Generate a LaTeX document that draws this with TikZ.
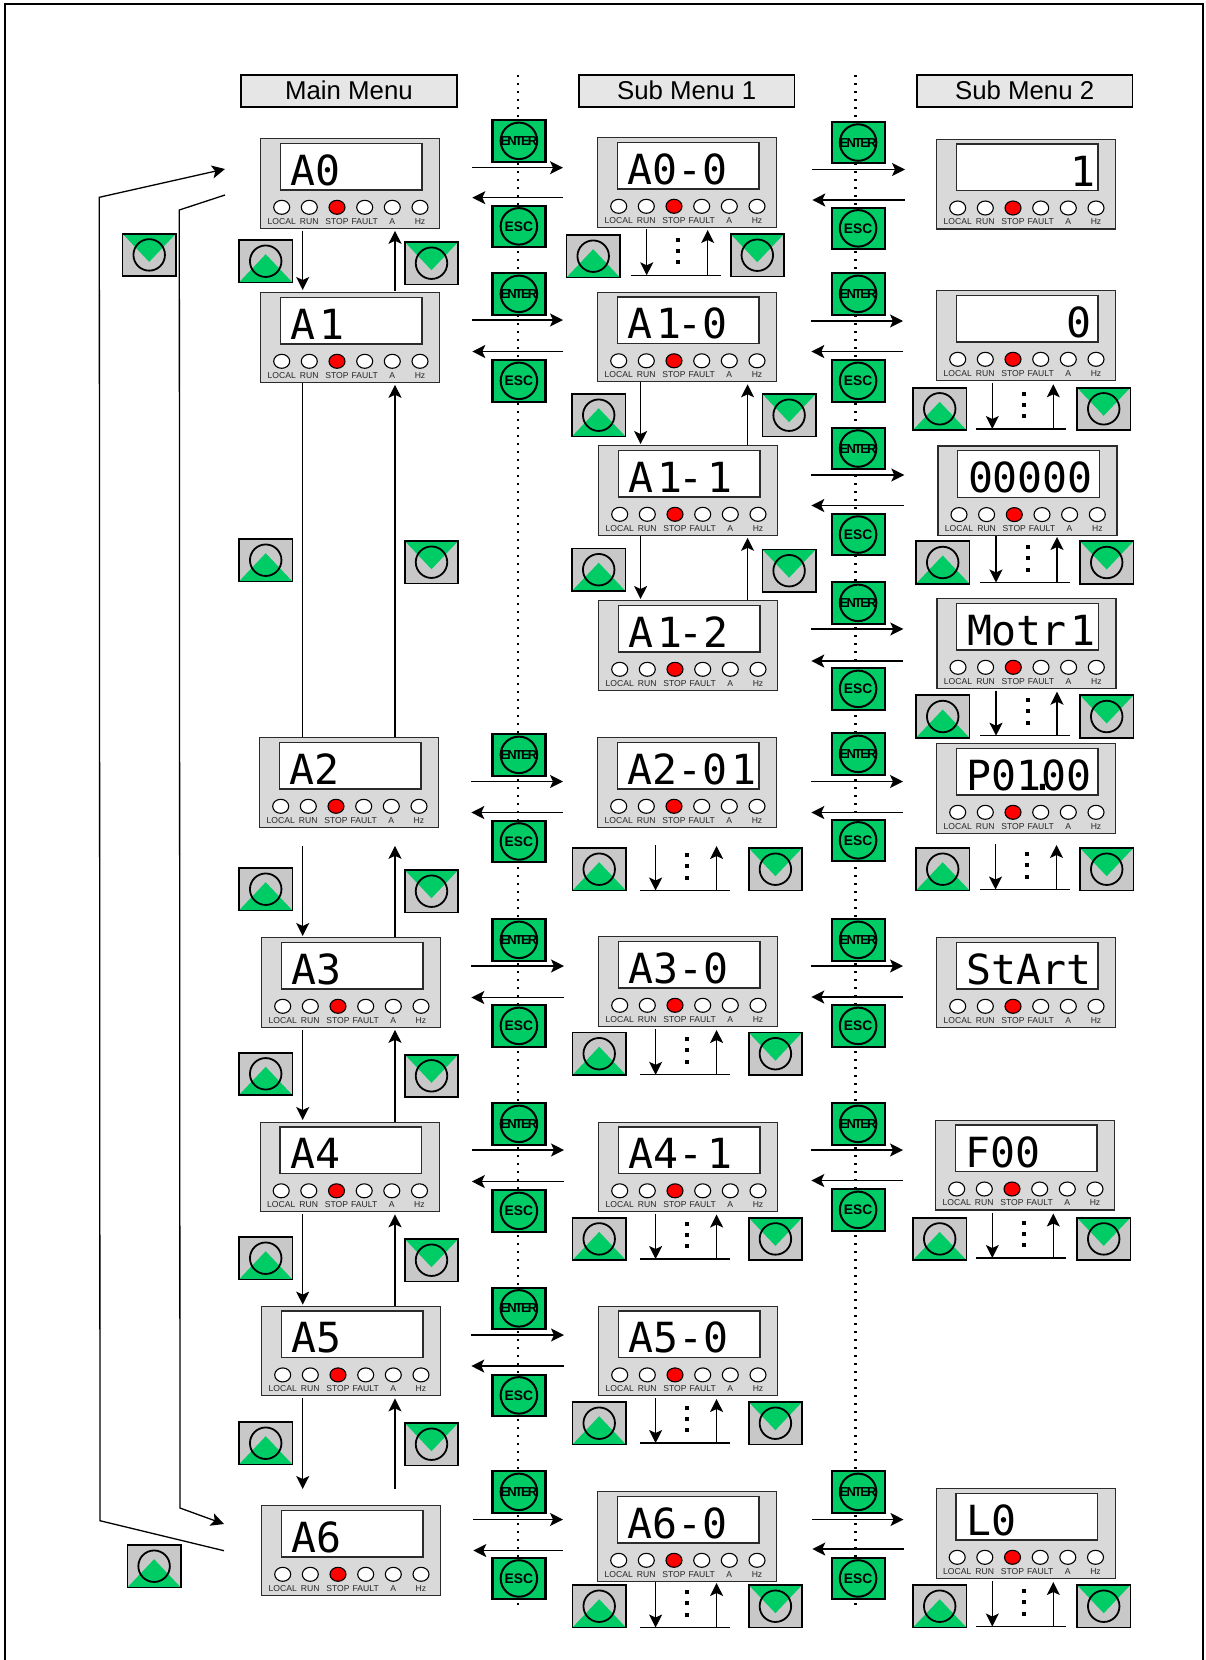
\documentclass[tikz,border=0pt]{standalone}
\usepackage{fontspec}
\setmainfont{Liberation Sans}
\newfontfamily\lcdfont{DejaVu Sans Mono}
\newfontfamily\entfont[LetterSpace=-14.0]{Liberation Sans}
\usetikzlibrary{arrows.meta,shapes.geometric}
\definecolor{panelgray}{HTML}{D9D9D9}
\definecolor{btngray}{HTML}{C8C8C8}
\definecolor{btngreen}{HTML}{00CC66}
\definecolor{titlegray}{HTML}{E6E6E6}
\definecolor{edge}{HTML}{2B2B2B}
\definecolor{lbl}{HTML}{262626}
\tikzset{
  panelbox/.style={draw=edge,line width=1.3pt,fill=panelgray,minimum width=179pt,minimum height=89.5pt,inner sep=0pt,anchor=north west},
  lcdbox/.style={draw=edge,line width=1.3pt,fill=white,minimum width=141.5pt,minimum height=46.7pt,inner sep=0pt,anchor=north west},
  lcdtext/.style={font=\lcdfont\fontsize{41.5}{41.5}\selectfont,text=black,inner sep=0pt,anchor=base west},
  ledw/.style={ellipse,draw=black,line width=1.1pt,fill=white,minimum width=16pt,minimum height=14pt,inner sep=0pt},
  ledr/.style={ledw,fill=red},
  ledlabel/.style={font=\fontsize{8.6}{8.6}\selectfont,text=lbl,inner sep=0pt,anchor=base},
  titlebox/.style={draw=black,line width=1.7pt,fill=titlegray,minimum width=215.6pt,minimum height=31.7pt,inner sep=0pt,anchor=north west,font=\fontsize{25.8}{25.8}\selectfont},
  navbtn/.style={fill=btngray,minimum width=53pt,minimum height=42pt,inner sep=0pt,anchor=north west},
  navring/.style={circle,draw=black,line width=1.8pt,minimum size=31.5pt,inner sep=0pt},
  cmdbtn/.style={draw=black,line width=2.2pt,fill=btngreen,minimum width=53pt,minimum height=41.5pt,inner sep=0pt,anchor=north west},
  cmdring/.style={circle,draw=black,line width=2pt,minimum size=36.5pt,inner sep=0pt},
  entertext/.style={font=\entfont\bfseries\fontsize{13}{13}\selectfont,text=black,inner sep=0pt},
  esctext/.style={font=\bfseries\fontsize{13.8}{13.8}\selectfont,text=black,inner sep=0pt},
  conn/.style={draw=black,line width=1.3pt},
  arr/.style={conn,-{Stealth[length=13pt,width=13pt,inset=3pt]}},
  dotline/.style={draw=black,line width=2.2pt,dash pattern=on 2.2pt off 5.8pt}
}
% a digit 1 sits at the right of its display cell
\newcommand{\one}{\kern4pt 1\kern-4pt}
% panel: id, left, top, display text
\newcommand{\panel}[4]{%
  \begin{scope}[shift={(#2,#3)}]
    \node[panelbox] (#1) at (0,0) {};
    \node[lcdbox] (#1lcd) at (19.7,4.7) {};
    \node[lcdtext] (#1txt) at (30.5,47.3) {#4};
    \foreach \lx/\lt/\ls in {21.7/LOCAL/ledw,49.3/RUN/ledw,77/STOP/ledr,104.7/FAULT/ledw,132.3/A/ledw,160/Hz/ledw}{
      \node[\ls] (#1led\lt) at (\lx,69.3) {};
      \node[ledlabel] (#1lab\lt) at (\lx,86) {\lt};
    }
  \end{scope}}
\newcommand{\titlenode}[4]{\node[titlebox] (#1) at (#2,#3) {\raisebox{2pt}{#4}};}
% up button (green peak at the bottom)
\newcommand{\upb}[3]{%
  \node[navbtn] (#1) at (#2,#3) {};
  \fill[btngreen] (#1.south west) -- (#1.south east) -- ([yshift=7pt]#1.center) -- cycle;
  \draw[black,line width=1.8pt] (#1.south west) rectangle (#1.north east);
  \node[navring] (#1r) at (#1.center) {};}
% down button (green wedge from the top)
\newcommand{\dnb}[3]{%
  \node[navbtn] (#1) at (#2,#3) {};
  \fill[btngreen] (#1.north west) -- (#1.north east) -- ([yshift=-7pt]#1.center) -- cycle;
  \draw[black,line width=1.8pt] (#1.south west) rectangle (#1.north east);
  \node[navring] (#1r) at (#1.center) {};}
\newcommand{\entb}[3]{%
  \node[cmdbtn] (#1) at (#2,#3) {};
  \node[cmdring] (#1r) at (#1.center) {};
  \node[entertext] (#1t) at (#1.center) {ENTER};}
\newcommand{\escb}[3]{%
  \node[cmdbtn] (#1) at (#2,#3) {};
  \node[cmdring] (#1r) at (#1.center) {};
  \node[esctext] (#1t) at (#1.center) {ESC};}
% enter/esc arrow pair between two panels
\newcommand{\hpair}[6]{%
  \draw[arr] ([xshift=#5pt]#1.east |- 0,#3) -- ([xshift=#6pt]#2.west |- 0,#3);
  \draw[arr] ([xshift=#6pt]#2.west |- 0,#4) -- ([xshift=#5pt]#1.east |- 0,#4);}
% vertical connector from panel to panel: style, from, to, x, gap at from, gap at to
\newcommand{\vdn}[6]{\draw[#1] ([yshift=-#5pt]#4,0 |- #2.south) -- ([yshift=#6pt]#4,0 |- #3.north);}
\newcommand{\vup}[6]{\draw[#1] ([yshift=#6pt]#4,0 |- #3.north) -- ([yshift=-#5pt]#4,0 |- #2.south);}
% scroll mark below a panel: id, x of base, y of base, y of top
\newcommand{\scrollmark}[4]{%
  \begin{scope}[shift={(#2,#3)}]
    \coordinate (#1l) at (0,0);
    \coordinate (#1r) at (90,0);
    \coordinate (#1da) at (16,{#4-#3});
    \coordinate (#1db) at (16,0);
    \coordinate (#1ua) at (77,0);
    \coordinate (#1ub) at (77,{#4-#3+1});
    \foreach \dy in {-33.5,-22.5,-11}{\fill[black] (45.7,\dy) rectangle (49.7,\dy-4);}
  \end{scope}
  \draw[conn] (#1l) -- (#1r);
  \draw[arr] (#1da) -- (#1db);
  \draw[arr] (#1ua) -- (#1ub);}
\begin{document}
\begin{tikzpicture}[x=1pt,y=-1pt]
\useasboundingbox (0,0) rectangle (1205,1660);
\draw[black,line width=2pt] (5,1660) -- (5,3.5) -- (1203,3.5) -- (1203,1660);
% dotted separators
\coordinate (da) at (517.7,75); \coordinate (db) at (517.7,1606);
\coordinate (dc) at (855.5,75); \coordinate (dd) at (855.5,1606);
\draw[dotline] (da) -- (db);
\draw[dotline] (dc) -- (dd);
% titles
\titlenode{tmain}{240.3}{74.3}{Main Menu}
\titlenode{tsuba}{578}{74.3}{Sub Menu 1}
\titlenode{tsubb}{916}{74.3}{Sub Menu 2}
% main column
\panel{mz}{260}{138}{A0}
\panel{ma}{260}{292}{A\one}
\panel{mb}{259}{737}{A2}
\panel{mc}{261}{937}{A3}
\panel{md}{259.5}{1121.5}{A4}
\panel{me}{261}{1305.6}{A5}
\panel{mf}{261}{1505}{A6}
% sub menu 1
\panel{sz}{597}{137}{A0-0}
\panel{sa}{597}{291.5}{A\one-0}
\panel{sb}{598}{445}{A\one-\one}
\panel{sc}{598}{600}{A\one-2}
\panel{sd}{597}{737}{A2-0\one}
\panel{se}{598}{936}{A3-0}
\panel{sf}{598}{1121.5}{A4-\one}
\panel{sg}{598}{1305.6}{A5-0}
\panel{sh}{597}{1491}{A6-0}
% sub menu 2
\panel{tz}{936}{138.7}{\phantom{0000}\one}
\panel{ta}{936}{290}{\phantom{0000}0}
\panel{tb}{937.3}{445.3}{00000}
\panel{tc}{936.3}{598}{Motr\one}
\panel{td}{936}{743}{P01\rlap{\kern-11.5pt .}00}
\panel{te}{936}{937}{StArt}
\panel{tf}{935}{1119.7}{F00}
\panel{tg}{935.5}{1488}{L0}
% long return connectors
\coordinate (oa) at (100,1520.7); \coordinate (ob) at (99.3,197.3);
\coordinate (ia) at (179.3,210); \coordinate (ib) at (180,1508);
\draw[arr] ([xshift=-37pt]mf.west |- 0,1550.7) -- (oa) -- (ob) -- ([xshift=-35pt]mz.west |- 0,169);
\draw[arr] ([xshift=-35pt]mz.west |- 0,195) -- (ia) -- (ib) -- ([xshift=-37pt]mf.west |- 0,1524);
% main column vertical connectors
\vdn{arr}{mz}{ma}{302.7}{2}{2}   \vup{arr}{mz}{ma}{395}{2}{1}
\vdn{conn}{ma}{mb}{302.7}{0}{0}  \vup{arr}{ma}{mb}{395}{2}{0}
\vdn{arr}{mb}{mc}{302.7}{18}{1}  \vup{arr}{mb}{mc}{395}{18}{0}
\vdn{arr}{mc}{md}{302.7}{2}{1.5} \vup{arr}{mc}{md}{395}{2}{0}
\vdn{arr}{md}{me}{302.7}{2}{1}   \vup{arr}{md}{me}{395}{2}{0}
\vdn{arr}{me}{mf}{302.7}{2}{16}  \vup{arr}{me}{mf}{395}{2}{16}
% sub menu 1 vertical connectors
\vdn{arr}{sa}{sb}{640.6}{0}{1}   \vup{arr}{sa}{sb}{747.6}{2}{0}
\vdn{arr}{sb}{sc}{640.6}{0}{1}   \vup{arr}{sb}{sc}{747.6}{2}{0}
% main to sub 1
\hpair{mz}{sz}{167.7}{197.7}{32}{-34}
\hpair{ma}{sa}{320}{351.5}{32}{-34}
\hpair{mb}{sd}{781.5}{812.5}{32}{-34}
\hpair{mc}{se}{966}{997.5}{30}{-34}
\hpair{md}{sf}{1150}{1181.5}{32}{-34}
\hpair{me}{sg}{1335}{1366}{30}{-34}
\hpair{mf}{sh}{1519.5}{1550.5}{32}{-34}
% sub 1 to sub 2
\hpair{sz}{tz}{169.5}{200}{35}{-31}
\hpair{sa}{ta}{321}{351.5}{34}{-33}
\hpair{sb}{tb}{475}{505.5}{33}{-33}
\hpair{sc}{tc}{629}{661}{33}{-33}
\hpair{sd}{td}{781.5}{812.5}{34}{-33}
\hpair{se}{te}{966}{997}{33}{-33}
\hpair{sf}{tf}{1150}{1180.5}{33}{-32}
\hpair{sh}{tg}{1519.5}{1549}{35}{-32}
% scroll marks
\scrollmark{ksz}{630.7}{275.3}{229}
\scrollmark{ksd}{639.6}{890.5}{845}
\scrollmark{kse}{639.6}{1074.8}{1029}
\scrollmark{ksf}{639.6}{1259}{1213.5}
\scrollmark{ksg}{639.6}{1443}{1398}
\scrollmark{ksh}{639.6}{1627.5}{1582}
\scrollmark{kta}{976.3}{429}{383.3}
\scrollmark{ktb}{980}{582.5}{536}
\scrollmark{ktc}{980}{735.7}{690.7}
\scrollmark{ktd}{979.5}{889.5}{844}
\scrollmark{ktf}{976.3}{1258}{1212.5}
\scrollmark{ktg}{976.3}{1626.5}{1581}
% enter and esc buttons, first column
\foreach \yy [count=\n] in {119,272,733,918,1102,1286.5,1470}{\entb{ea\n}{491.3}{\yy}}
\foreach \yy [count=\n] in {204.5,359,819.6,1004,1189,1373.5,1556.6}{\escb{eb\n}{491.3}{\yy}}
% second column
\foreach \yy [count=\n] in {120.7,272,426.7,581,732,918,1102,1470}{\entb{ec\n}{830.5}{\yy}}
\foreach \yy [count=\n] in {206.5,359,512.7,667,818.5,1004,1188,1556.6}{\escb{ed\n}{830.5}{\yy}}
% navigation buttons, far left
\dnb{na}{122.5}{233.7}
\upb{nb}{127.4}{1545}
% main column
\foreach \yy [count=\n] in {240,539,868,1052.6,1237,1422}{\upb{pu\n}{239}{\yy}}
\foreach \yy [count=\n] in {242,541,870,1054.6,1239,1423}{\dnb{pd\n}{404.8}{\yy}}
% sub 1
\upb{qua}{566.5}{235} \dnb{qda}{730.6}{234}
\upb{qub}{572}{394} \dnb{qdb}{762.4}{394}
\upb{quc}{572}{548.5} \dnb{qdc}{762.4}{549.5}
\foreach \yy [count=\n] in {848,1032.5,1217.7,1402,1585}{\upb{quu\n}{572.5}{\yy}\dnb{qdd\n}{748.7}{\yy}}
% sub 2
\upb{rua}{913}{387.6} \dnb{rda}{1077}{387.6}
\upb{rub}{916}{541.3} \dnb{rdb}{1080}{541.3}
\upb{ruc}{916}{695.3} \dnb{rdc}{1080}{695.3}
\upb{rud}{916}{848} \dnb{rdd}{1080}{848}
\upb{rue}{913}{1217.7} \dnb{rde}{1077}{1217.7}
\upb{ruf}{913}{1585} \dnb{rdf}{1077}{1585}
\end{tikzpicture}
\end{document}
